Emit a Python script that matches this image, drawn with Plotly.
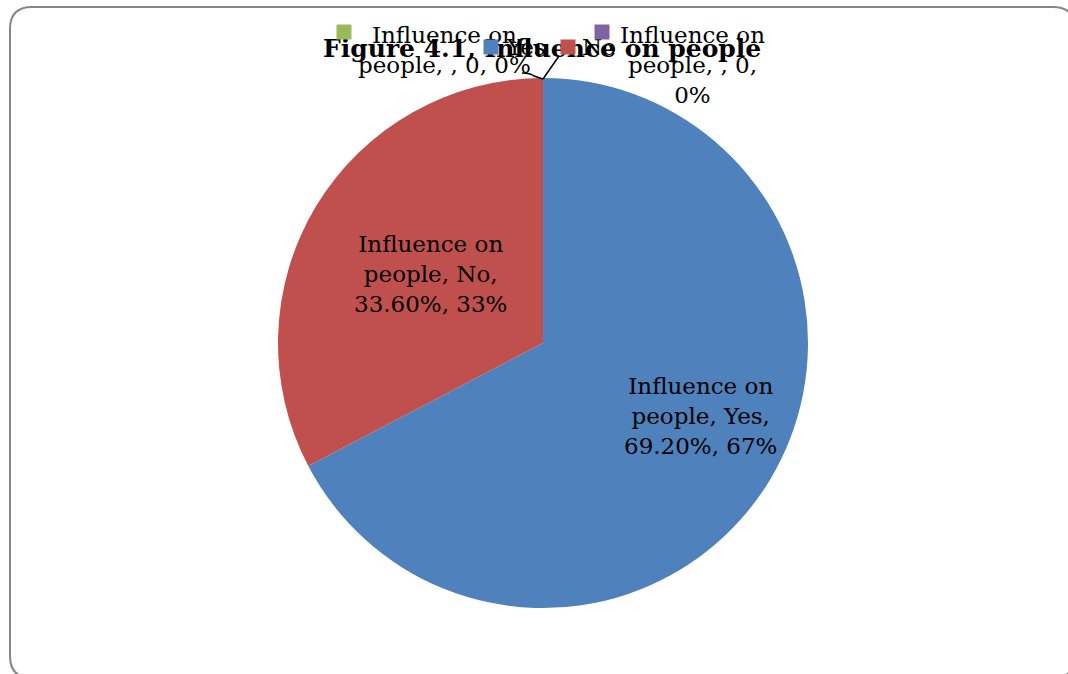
import plotly.graph_objects as go

W, H = 1068, 674

categories = ["Yes", "No", "", ""]
values = [69.20, 33.60, 0, 0]
percent_labels = ["67%", "33%", "0%", "0%"]
series_name = "Influence on people"
title_text = "Figure 4.1, Influence on people"
colors = ["#4F81BD", "#C0504D", "#9BBB59", "#8064A2"]

FONT = "DejaVu Serif"


def px(x):
    return x / W


def py(y):
    return 1 - y / H


fig = go.Figure()
fig.add_trace(go.Pie(
    labels=["Yes", "No", "blank a", "blank b"],
    values=values,
    sort=False,
    direction="clockwise",
    rotation=0,
    marker=dict(colors=colors, line=dict(width=0)),
    textinfo="none",
    hoverinfo="label+value+percent",
    showlegend=False,
    domain=dict(x=[px(278), px(808)], y=[py(608), py(78)]),
))

shapes = []
# outer rounded border
r = 22
x0, y0, x1, y1 = 10, 7, 1075, 678
path = (f"M {px(x0+r)},{py(y0)} L {px(x1-r)},{py(y0)} Q {px(x1)},{py(y0)} {px(x1)},{py(y0+r)} "
        f"L {px(x1)},{py(y1-r)} Q {px(x1)},{py(y1)} {px(x1-r)},{py(y1)} "
        f"L {px(x0+r)},{py(y1)} Q {px(x0)},{py(y1)} {px(x0)},{py(y1-r)} "
        f"L {px(x0)},{py(y0+r)} Q {px(x0)},{py(y0)} {px(x0+r)},{py(y0)} Z")
shapes.append(dict(type="path", xref="paper", yref="paper", path=path,
                   line=dict(color="#868686", width=2), fillcolor="rgba(0,0,0,0)", layer="below"))
# leader lines for zero slices
shapes.append(dict(type="path", xref="paper", yref="paper",
                   path=f"M {px(543)},{py(79)} L {px(534)},{py(76)} Q {px(530)},{py(73)} {px(522)},{py(73)}",
                   line=dict(color="black", width=1.5), layer="above"))
shapes.append(dict(type="line", xref="paper", yref="paper",
                   x0=px(543), y0=py(79), x1=px(559), y1=py(56),
                   line=dict(color="black", width=1.5), layer="above"))

annotations = []
# title
annotations.append(dict(x=px(542), y=py(48), xref="paper", yref="paper", text=f"<b>{title_text}</b>",
                        showarrow=False, font=dict(family=FONT, size=25, color="black"),
                        xanchor="center", yanchor="middle"))

lab_font = dict(family=FONT, size=23, color="black")
# Yes / No labels
annotations.append(dict(x=px(700), y=py(416), xref="paper", yref="paper",
                        text=f"Influence on<br>people, {categories[0]},<br>{values[0]:.2f}%, {percent_labels[0]}",
                        showarrow=False, font=lab_font, align="center", xanchor="center", yanchor="middle"))
annotations.append(dict(x=px(430), y=py(274), xref="paper", yref="paper",
                        text=f"Influence on<br>people, {categories[1]},<br>{values[1]:.2f}%, {percent_labels[1]}",
                        showarrow=False, font=lab_font, align="center", xanchor="center", yanchor="middle"))
# zero slice labels
annotations.append(dict(x=px(444), y=py(50), xref="paper", yref="paper",
                        text=f"Influence on<br>people, {categories[2]}, {values[2]:g}, {percent_labels[2]}",
                        showarrow=False, font=lab_font, align="center", xanchor="center", yanchor="middle"))
annotations.append(dict(x=px(692), y=py(65), xref="paper", yref="paper",
                        text=f"Influence on<br>people, {categories[3]}, {values[3]:g},<br>{percent_labels[3]}",
                        showarrow=False, font=lab_font, align="center", xanchor="center", yanchor="middle"))

# legend texts
annotations.append(dict(x=px(504), y=py(47), xref="paper", yref="paper", text=categories[0],
                        showarrow=False, font=lab_font, xanchor="left", yanchor="middle"))
annotations.append(dict(x=px(580), y=py(47), xref="paper", yref="paper", text=categories[1],
                        showarrow=False, font=lab_font, xanchor="left", yanchor="middle"))

# legend markers (drawn last, over title)
legend_pos = [(344, 32), (491, 47), (568, 47), (602, 32)]
legend_cols = [colors[2], colors[0], colors[1], colors[3]]
for (lx, ly), c in zip(legend_pos, legend_cols):
    annotations.append(dict(x=px(lx), y=py(ly), xref="paper", yref="paper", text=" ",
                            showarrow=False, width=12, height=12, bgcolor=c, borderpad=1,
                            font=dict(size=8), xanchor="center", yanchor="middle"))

fig.update_layout(
    width=W, height=H,
    margin=dict(l=0, r=0, t=0, b=0),
    paper_bgcolor="white",
    plot_bgcolor="white",
    shapes=shapes,
    annotations=annotations,
    font=dict(family=FONT),
)

fig.write_html("out.html")
